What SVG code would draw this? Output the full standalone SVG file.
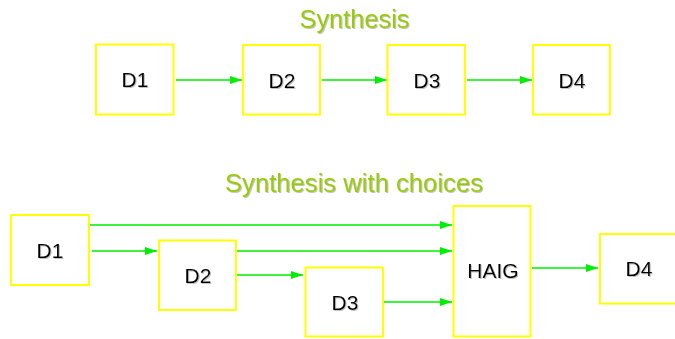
<svg xmlns="http://www.w3.org/2000/svg" width="675" height="339" viewBox="0 0 675 339">
  <style>
    .box { fill: #ffffff; stroke: #ffff00; stroke-width: 2; }
    .lbl { font-family: "Liberation Sans", Arial, sans-serif; font-size: 21px; fill: #000000; text-anchor: middle; }
    .title { font-family: "Liberation Sans", Arial, sans-serif; font-size: 25px; fill: #99cc00; text-anchor: middle; }
    .edge { stroke: #00ee00; stroke-width: 1.6; fill: none; marker-end: url(#arrow); }
  </style>
  <defs>
    <marker id="arrow" viewBox="0 0 12 8" refX="12" refY="4" markerWidth="12" markerHeight="8" markerUnits="userSpaceOnUse" orient="auto">
      <path d="M0,0 L12,4 L0,8 z" fill="#00ee00"/>
    </marker>
    <filter id="shadow" x="-10%" y="-10%" width="130%" height="140%">
      <feDropShadow dx="1" dy="1" stdDeviation="0.4" flood-color="#999999" flood-opacity="0.6"/>
    </filter>
  </defs>
  <rect width="675" height="339" fill="#ffffff"/>

  <!-- section titles -->
  <text class="title" x="354.5" y="27.5" textLength="110" lengthAdjust="spacingAndGlyphs" filter="url(#shadow)">Synthesis</text>
  <text class="title" x="354" y="191.5" textLength="258" lengthAdjust="spacingAndGlyphs" filter="url(#shadow)">Synthesis with choices</text>

  <!-- connectors -->
  <g id="connectors">
    <line class="edge" x1="176" y1="80" x2="242" y2="80"/>
    <line class="edge" x1="322" y1="80" x2="387" y2="80"/>
    <line class="edge" x1="467" y1="80" x2="532" y2="80"/>

    <line class="edge" x1="90" y1="225" x2="452" y2="225"/>
    <line class="edge" x1="92" y1="251" x2="157" y2="251"/>
    <line class="edge" x1="237" y1="251" x2="452" y2="251"/>
    <line class="edge" x1="237" y1="275" x2="303" y2="275"/>
    <line class="edge" x1="384" y1="302" x2="452" y2="302"/>
    <line class="edge" x1="532" y1="268" x2="598" y2="268"/>
  </g>

  <!-- plain synthesis chain -->
  <g id="top-d1">
    <rect class="box" x="96" y="44.5" width="77.5" height="70"/>
    <text class="lbl" x="135" y="87" filter="url(#shadow)">D1</text>
  </g>
  <g id="top-d2">
    <rect class="box" x="243" y="45" width="77" height="69.5"/>
    <text class="lbl" x="282" y="87.5" filter="url(#shadow)">D2</text>
  </g>
  <g id="top-d3">
    <rect class="box" x="387.5" y="45" width="77.5" height="69.5"/>
    <text class="lbl" x="427" y="87.5" filter="url(#shadow)">D3</text>
  </g>
  <g id="top-d4">
    <rect class="box" x="533" y="45" width="77" height="69.5"/>
    <text class="lbl" x="572" y="87.5" filter="url(#shadow)">D4</text>
  </g>

  <!-- synthesis with choices -->
  <g id="bot-d1">
    <rect class="box" x="11" y="215" width="78" height="70"/>
    <text class="lbl" x="50" y="257.5" filter="url(#shadow)">D1</text>
  </g>
  <g id="bot-d2">
    <rect class="box" x="159" y="240.5" width="77" height="69.5"/>
    <text class="lbl" x="198" y="282.5" filter="url(#shadow)">D2</text>
  </g>
  <g id="bot-d3">
    <rect class="box" x="305.5" y="267.5" width="77.5" height="69"/>
    <text class="lbl" x="345" y="309.5" filter="url(#shadow)">D3</text>
  </g>
  <g id="haig">
    <rect class="box" x="453.5" y="206" width="77" height="130.5"/>
    <text class="lbl" x="493" y="278" filter="url(#shadow)">HAIG</text>
  </g>
  <g id="bot-d4">
    <rect class="box" x="600" y="234" width="77" height="69.5"/>
    <text class="lbl" x="639" y="276" filter="url(#shadow)">D4</text>
  </g>
</svg>
